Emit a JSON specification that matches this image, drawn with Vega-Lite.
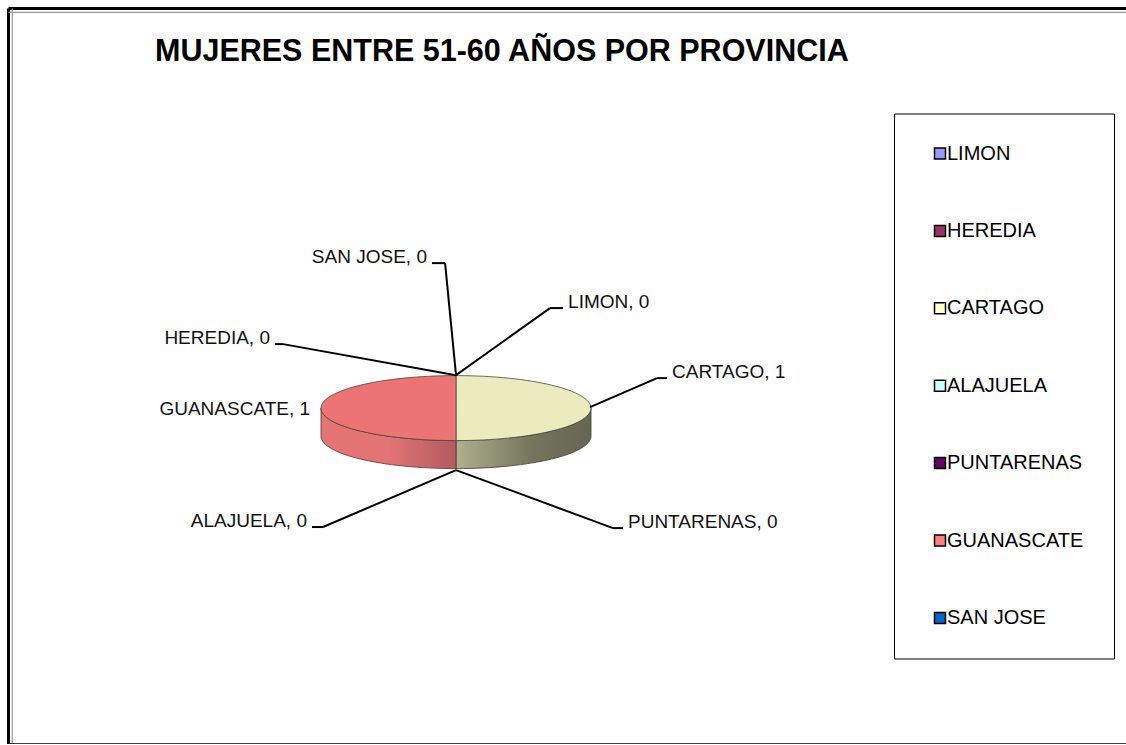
{
  "$schema": "https://vega.github.io/schema/vega-lite/v6.json",
  "autosize": "none",
  "padding": {"left": 8.5, "top": 8.5, "right": 0, "bottom": 0},
  "width": 1117.5,
  "height": 735.75,
  "background": "white",
  "title": {
    "text": "MUJERES ENTRE 51-60 AÑOS POR PROVINCIA",
    "anchor": "start",
    "frame": "group",
    "orient": "top",
    "dx": 146.5,
    "offset": -84,
    "baseline": "alphabetic",
    "font": "Liberation Sans",
    "fontSize": 30.5,
    "fontWeight": "bold",
    "color": "#000000"
  },
  "config": {
    "view": {"stroke": null},
    "legend": {
      "orient": "none",
      "legendX": 885.5,
      "legendY": 105,
      "padding": 30,
      "fillColor": "#ffffff",
      "strokeColor": "#000000",
      "symbolType": "square",
      "symbolSize": 121,
      "symbolStrokeColor": "#000000",
      "symbolStrokeWidth": 1.5,
      "symbolOffset": 6,
      "labelFont": "Liberation Sans",
      "labelFontSize": 20,
      "labelColor": "#000000",
      "labelOffset": -3,
      "labelLimit": 260,
      "rowPadding": 57.4
    }
  },
  "datasets": {
    "mujeres": [
      {"province": "LIMON", "value": 0},
      {"province": "HEREDIA", "value": 0},
      {"province": "CARTAGO", "value": 1},
      {"province": "ALAJUELA", "value": 0},
      {"province": "PUNTARENAS", "value": 0},
      {"province": "GUANASCATE", "value": 1},
      {"province": "SAN JOSE", "value": 0}
    ],
    "callouts": [
      {"province": "SAN JOSE", "sx": 0, "sy": 24.4, "ex": -8.1, "ey": 107.4, "hx": -17.8},
      {"province": "LIMON", "sx": 0, "sy": 24.4, "ex": 69.6, "ey": 74.1, "hx": 79.3},
      {"province": "HEREDIA", "sx": 0, "sy": 24.4, "ex": -128.1, "ey": 47.4, "hx": -134.1},
      {"province": "GUANASCATE", "sx": -104.4, "sy": -5.2, "ex": -104.4, "ey": -5.2, "hx": -104.4},
      {"province": "CARTAGO", "sx": 99.3, "sy": 0.7, "ex": 148.9, "ey": 22.2, "hx": 156.3},
      {"province": "PUNTARENAS", "sx": 0, "sy": -45.9, "ex": 116.3, "ey": -88.9, "hx": 123.7},
      {"province": "ALAJUELA", "sx": 0, "sy": -45.9, "ex": -98.5, "ey": -88.1, "hx": -106.7}
    ],
    "frame": [{"edge": "marco"}]
  },
  "layer": [
    {
      "data": {"name": "frame"},
      "mark": {"type": "rule", "color": "#000000", "strokeWidth": 3},
      "encoding": {
        "y": {"datum": 296, "type": "quantitative", "scale": {"domain": [-249, 296], "nice": false, "zero": false}, "axis": null}
      }
    },
    {
      "data": {"name": "frame"},
      "mark": {"type": "rule", "color": "#000000", "strokeWidth": 3},
      "encoding": {
        "x": {"datum": -331.5, "type": "quantitative", "scale": {"domain": [-331.5, 496.3], "nice": false, "zero": false}, "axis": null}
      }
    },
    {
      "data": {"name": "frame"},
      "mark": {"type": "rule", "color": "#999999", "strokeWidth": 1.2},
      "encoding": {
        "y": {"datum": 293.2, "type": "quantitative"}
      }
    },
    {
      "data": {"name": "frame"},
      "mark": {"type": "rule", "color": "#999999", "strokeWidth": 1.2},
      "encoding": {
        "x": {"datum": -328.7, "type": "quantitative"}
      }
    },
    {
      "data": {"name": "frame"},
      "mark": {"type": "rule", "color": "#000000", "strokeWidth": 2},
      "encoding": {
        "y": {"datum": -249, "type": "quantitative"}
      }
    },
    {
      "data": {"name": "mujeres"},
      "mark": {"type": "point", "shape": "square", "filled": true, "opacity": 1, "size": 16, "stroke": "#000000", "strokeWidth": 1},
      "encoding": {
        "x": {"datum": 0, "type": "quantitative"},
        "y": {"datum": 0, "type": "quantitative"},
        "color": {
          "field": "province",
          "type": "nominal",
          "scale": {
            "domain": ["LIMON", "HEREDIA", "CARTAGO", "ALAJUELA", "PUNTARENAS", "GUANASCATE", "SAN JOSE"],
            "range": ["#9999FF", "#993366", "#FFFFCC", "#CCFFFF", "#660066", "#FF8080", "#0066CC"]
          },
          "legend": {"title": null}
        }
      }
    },
    {
      "data": {"name": "mujeres"},
      "transform": [{"filter": "datum.province == 'CARTAGO' && datum.value > 0"}],
      "mark": {
        "type": "point",
        "filled": true,
        "opacity": 1,
        "size": 72900,
        "shape": "M1,0 L1,0.2074 A1,0.2407 0 0 1 0,0.4481 L0,0.2407 A1,0.2407 0 0 0 1,0 Z",
        "fill": {
          "gradient": "linear",
          "x1": 0, "y1": 0, "x2": 1, "y2": 0,
          "stops": [
            {"offset": 0, "color": "#B0B08E"},
            {"offset": 0.55, "color": "#76765E"},
            {"offset": 1, "color": "#666652"}
          ]
        },
        "stroke": "#3E3E32",
        "strokeWidth": 0.8
      },
      "encoding": {
        "x": {"datum": 0, "type": "quantitative"},
        "y": {"datum": 0, "type": "quantitative"}
      }
    },
    {
      "data": {"name": "mujeres"},
      "transform": [{"filter": "datum.province == 'GUANASCATE' && datum.value > 0"}],
      "mark": {
        "type": "point",
        "filled": true,
        "opacity": 1,
        "size": 72900,
        "shape": "M-1,0 L-1,0.2074 A1,0.2407 0 0 0 0,0.4481 L0,0.2407 A1,0.2407 0 0 1 -1,0 Z",
        "fill": {
          "gradient": "linear",
          "x1": 0, "y1": 0, "x2": 1, "y2": 0,
          "stops": [
            {"offset": 0, "color": "#E57474"},
            {"offset": 0.5, "color": "#E27474"},
            {"offset": 1, "color": "#B45A5E"}
          ]
        },
        "stroke": "#5A3030",
        "strokeWidth": 0.8
      },
      "encoding": {
        "x": {"datum": 0, "type": "quantitative"},
        "y": {"datum": 0, "type": "quantitative"}
      }
    },
    {
      "data": {"name": "mujeres"},
      "transform": [{"filter": "datum.value > 0"}],
      "mark": {"type": "point", "filled": true, "opacity": 1, "size": 72900, "stroke": "#4A4A40", "strokeWidth": 0.8},
      "encoding": {
        "x": {"datum": 0, "type": "quantitative"},
        "y": {"datum": 0, "type": "quantitative"},
        "color": {
          "field": "province",
          "type": "nominal",
          "scale": {"domain": ["CARTAGO", "GUANASCATE"], "range": ["#EBEBBF", "#EC7474"]},
          "legend": null
        },
        "shape": {
          "field": "province",
          "type": "nominal",
          "scale": {
            "domain": ["CARTAGO", "GUANASCATE"],
            "range": [
              "M0,-0.2407 A1,0.2407 0 0 1 0,0.2407 Z",
              "M0,-0.2407 A1,0.2407 0 0 0 0,0.2407 Z"
            ]
          },
          "legend": null
        }
      }
    },
    {
      "data": {"name": "callouts"},
      "mark": {"type": "rule", "color": "#000000", "strokeWidth": 2},
      "encoding": {
        "x": {"field": "sx", "type": "quantitative"},
        "y": {"field": "sy", "type": "quantitative"},
        "x2": {"field": "ex"},
        "y2": {"field": "ey"}
      }
    },
    {
      "data": {"name": "callouts"},
      "mark": {"type": "rule", "color": "#000000", "strokeWidth": 2},
      "encoding": {
        "x": {"field": "ex", "type": "quantitative"},
        "x2": {"field": "hx"},
        "y": {"field": "ey", "type": "quantitative"}
      }
    },
    {
      "data": {"name": "callouts"},
      "transform": [
        {"lookup": "province", "from": {"data": {"name": "mujeres"}, "key": "province", "fields": ["value"]}},
        {"filter": "datum.hx > datum.ex"}
      ],
      "mark": {
        "type": "text",
        "align": "left",
        "baseline": "alphabetic",
        "dx": 5,
        "font": "Liberation Sans",
        "fontSize": 19,
        "color": "#111111",
        "text": {"expr": "datum.province + ', ' + datum.value"}
      },
      "encoding": {
        "x": {"field": "hx", "type": "quantitative"},
        "y": {"field": "ey", "type": "quantitative"}
      }
    },
    {
      "data": {"name": "callouts"},
      "transform": [
        {"lookup": "province", "from": {"data": {"name": "mujeres"}, "key": "province", "fields": ["value"]}},
        {"filter": "datum.hx <= datum.ex"}
      ],
      "mark": {
        "type": "text",
        "align": "right",
        "baseline": "alphabetic",
        "dx": -5,
        "font": "Liberation Sans",
        "fontSize": 19,
        "color": "#111111",
        "text": {"expr": "datum.province + ', ' + datum.value"}
      },
      "encoding": {
        "x": {"field": "hx", "type": "quantitative"},
        "y": {"field": "ey", "type": "quantitative"}
      }
    }
  ],
  "resolve": {"scale": {"color": "independent", "shape": "independent"}}
}
